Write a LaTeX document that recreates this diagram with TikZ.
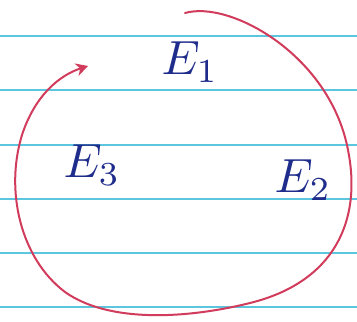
\documentclass[tikz,border=0pt]{standalone}
\usetikzlibrary{arrows.meta}
\definecolor{rule}{HTML}{5CC6DF}
\definecolor{ink}{HTML}{D23C5C}
\definecolor{pen}{HTML}{1E2C8C}
\begin{document}
\begin{tikzpicture}[x=1pt,y=-1pt,
  ruleline/.style={rule, line width=2.2pt},
  loop/.style={ink, line width=2pt, line cap=round, -{Stealth[length=12pt,width=13pt]}},
  lab/.style={pen, scale=4.8}]
\useasboundingbox (0,0) rectangle (357,322);
\fill[white] (0,0) rectangle (357,322);
\foreach \y in {36,90,145,199,253,307} \draw[ruleline] (0,\y) -- (357,\y);
\coordinate (s) at (185,13);
\coordinate (t) at (88,66);
\draw[loop] (s) .. controls (230,0) and (330,55) .. (348,150)
  .. controls (362,220) and (335,282) .. (250,303)
  .. controls (190,318) and (110,324) .. (65,292)
  .. controls (20,258) and (5,190) .. (22,135)
  .. controls (35,95) and (60,75) .. (t);
\node[lab] (e1) at (190,62) {$E_{1}$};
\node[lab] (e3) at (92,165) {$E_{3}$};
\node[lab] (e2) at (303,180) {$E_{2}$};
\end{tikzpicture}
\end{document}
